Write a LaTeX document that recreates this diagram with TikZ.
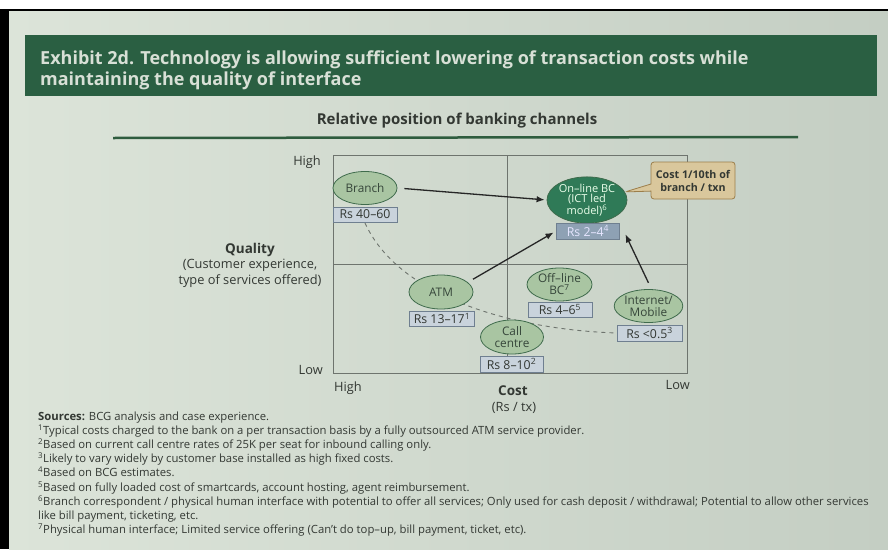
\documentclass[tikz,border=0pt]{standalone}
\usepackage{fontspec}
\setmainfont{Open Sans}
\usetikzlibrary{shapes.geometric,shapes.callouts,arrows.meta}
\definecolor{pageL}{HTML}{DCE4D9}
\definecolor{pageR}{HTML}{C4CEC3}
\definecolor{band}{HTML}{2A5F42}
\definecolor{titlet}{HTML}{D8E0D6}
\definecolor{rulec}{HTML}{2E5C3E}
\definecolor{gridc}{HTML}{6E746E}
\definecolor{sage}{HTML}{A9C5A2}
\definecolor{edgeg}{HTML}{3F6B4C}
\definecolor{darkg}{HTML}{2F7A57}
\definecolor{txtg}{HTML}{36463A}
\definecolor{boxf}{HTML}{C9D3DC}
\definecolor{boxb}{HTML}{6F7F90}
\definecolor{boxdark}{HTML}{8EA1B4}
\definecolor{tan}{HTML}{D9C79C}
\definecolor{tanb}{HTML}{9C7E4A}
\definecolor{darkt}{HTML}{333833}
\tikzset{
  chan/.style={ellipse, draw=edgeg, fill=sage, line width=0.8pt, inner sep=0pt,
    text=txtg, font=\fontsize{11.8}{12}\selectfont, align=center},
  cost/.style={rectangle, draw=boxb, fill=boxf, line width=0.7pt, inner sep=0pt,
    text=darkt, font=\fontsize{12.3}{13}\selectfont},
  arr/.style={-{Latex[length=8pt,width=6.5pt]}, line width=1.3pt, black!85},
  axl/.style={text=darkt, font=\fontsize{12.8}{15}\selectfont, inner sep=0pt},
  fnote/.style={anchor=base west, inner sep=0pt, text=darkt, font=\fontsize{11.3}{13}\selectfont}
}
\begin{document}
\begin{tikzpicture}[x=1pt,y=-1pt]
\useasboundingbox (0,0) rectangle (888,549);
% page
\fill[white] (0,0) rectangle (888,549);
\shade[left color=pageL, right color=pageR] (9,10) rectangle (888,549);
\fill[black] (0,9) rectangle (9,549);
\draw[black, line width=1.5pt] (0,10) -- (888,10);
% title band
\fill[band] (25,35) rectangle (877,96);
\node[anchor=base west, inner sep=0pt, text=titlet, font=\bfseries\fontsize{18}{21}\selectfont] (t1) at (40,64)
  {Exhibit 2d. Technology is allowing sufficient lowering of transaction costs while};
\node[anchor=base west, inner sep=0pt, text=titlet, font=\bfseries\fontsize{18}{21}\selectfont] (t2) at (40,85)
  {maintaining the quality of interface};
\node[anchor=base, inner sep=0pt, text=darkt, font=\bfseries\fontsize{15}{17}\selectfont] (sub) at (457,124)
  {Relative position of banking channels};
\draw[rulec, line width=2.5pt] (113,138) -- (798,137);
% plot frame
\draw[gridc, line width=0.8pt] (333,155) rectangle (687,373);
\draw[gridc, line width=0.8pt] (507,155) -- (507,373);
\draw[gridc, line width=0.8pt] (333,264) -- (687,264);
% axis labels
\node[axl, anchor=base east] (qhigh) at (321,165) {High};
\node[axl, anchor=base east] (qlow) at (323,374) {Low};
\node[axl, anchor=base west] (chigh) at (334,391) {High};
\node[axl, anchor=base east] (clow) at (690,389) {Low};
\node[axl, anchor=base, font=\bfseries\fontsize{13.5}{15}\selectfont] (cost) at (513,395) {Cost};
\node[axl, anchor=base] (costu) at (514,411) {(Rs / tx)};
\node[axl, anchor=base, font=\bfseries\fontsize{13.5}{15}\selectfont] (qual) at (250,253) {Quality};
\node[axl, anchor=base] (qual2) at (250,268) {(Customer experience,};
\node[axl, anchor=base] (qual3) at (250,284) {type of services offered)};
% dashed trend curve (drawn first, behind nodes)
\coordinate (dstart) at (365,223);
\coordinate (dend) at (617,333);
\draw[gridc, dashed, line width=0.9pt, dash pattern=on 4pt off 4pt] (dstart) .. controls (400,300) and (520,330) .. (dend);
% channels
\node[chan, minimum width=64pt, minimum height=33pt] (br) at (365,188) {Branch};
\node[cost, minimum width=64pt, minimum height=15pt] (rbr) at (365,214.5) {Rs 40–60};
\node[chan, fill=darkg, text=white!92!green, minimum width=80pt, minimum height=42pt,
  font=\fontsize{11}{10.3}\selectfont] (ol) at (587,200) {On–line BC\\(ICT led\\model)\textsuperscript{6}};
\node[cost, fill=boxdark, text=white!90!blue, minimum width=63pt, minimum height=16pt] (rol) at (588,231) {Rs 2–4\textsuperscript{4}};
\node[chan, minimum width=64pt, minimum height=34pt] (atm) at (441,292) {ATM};
\node[cost, minimum width=65pt, minimum height=15pt] (ratm) at (442,318.5) {Rs 13–17\textsuperscript{1}};
\node[chan, minimum width=65pt, minimum height=33pt] (off) at (559.5,284.5) {Off–line\\BC\textsuperscript{7}};
\node[cost, minimum width=64pt, minimum height=15pt] (roff) at (560,309.5) {Rs 4–6\textsuperscript{5}};
\node[chan, minimum width=63pt, minimum height=34pt] (cc) at (512,337) {Call\\centre};
\node[cost, minimum width=63pt, minimum height=16pt] (rcc) at (511.5,364) {Rs 8–10\textsuperscript{2}};
\node[chan, minimum width=64pt, minimum height=33pt] (im) at (648.5,306) {Internet/\\Mobile};
\node[cost, minimum width=65pt, minimum height=16pt] (rim) at (649.5,333) {Rs <0.5\textsuperscript{3}};
% callout
\node[rectangle callout, rounded corners=3pt, draw=tanb, fill=tan, line width=0.8pt,
  minimum width=84pt, minimum height=37pt, inner sep=0pt, align=center,
  text=darkt, font=\bfseries\fontsize{10.7}{13}\selectfont,
  callout absolute pointer={(ol.12)}] (call) at (693,180.5) {Cost 1/10th of\\branch / txn};
% arrows
\draw[arr, shorten <=7pt, shorten >=2pt] (br.east) -- (ol.west);
\draw[arr, shorten <=6pt, shorten >=3pt] (atm.20) -- (rol.west);
\draw[arr, shorten <=7pt, shorten >=13pt] (im.80) -- (rol.north east);
% footnotes
\node[fnote] (fn0) at (38,420) {\textbf{Sources:} BCG analysis and case experience.};
\node[fnote] (fn1) at (38,434) {\textsuperscript{1}Typical costs charged to the bank on a per transaction basis by a fully outsourced ATM service provider.};
\node[fnote] (fn2) at (38,448) {\textsuperscript{2}Based on current call centre rates of 25K per seat for inbound calling only.};
\node[fnote] (fn3) at (38,462) {\textsuperscript{3}Likely to vary widely by customer base installed as high fixed costs.};
\node[fnote] (fn4) at (38,476.5) {\textsuperscript{4}Based on BCG estimates.};
\node[fnote] (fn5) at (38,491) {\textsuperscript{5}Based on fully loaded cost of smartcards, account hosting, agent reimbursement.};
\node[fnote] (fn6) at (38,505) {\textsuperscript{6}Branch correspondent / physical human interface with potential to offer all services; Only used for cash deposit / withdrawal; Potential to allow other services};
\node[fnote] (fn7) at (38,519) {like bill payment, ticketing, etc.};
\node[fnote] (fn8) at (38,533.5) {\textsuperscript{7}Physical human interface; Limited service offering (Can't do top–up, bill payment, ticket, etc).};
\end{tikzpicture}
\end{document}
